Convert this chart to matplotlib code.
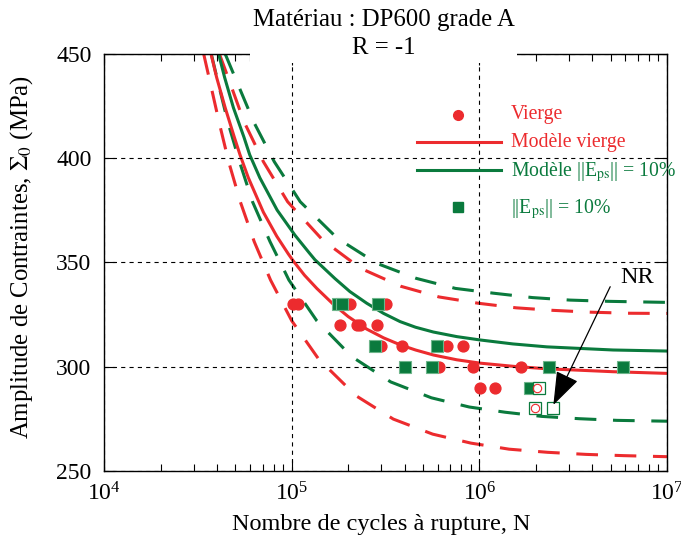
import matplotlib
matplotlib.use('Agg')
import matplotlib.pyplot as plt
from matplotlib.patches import Rectangle
from matplotlib.lines import Line2D
from matplotlib.ticker import LogLocator, FixedLocator, LogFormatterMathtext, NullLocator

plt.rcParams['font.family'] = 'serif'
plt.rcParams['font.serif'] = ['Liberation Serif', 'DejaVu Serif']
plt.rcParams['mathtext.fontset'] = 'stix'
plt.rcParams['lines.scale_dashes'] = False

RED = '#EC2B2E'
GREEN = '#0A7A3D'

# ---------------- data ----------------
# Vierge : filled red circles
vierge_N = [1.02e5, 1.08e5, 2.05e5, 3.18e5,
            1.81e5, 2.22e5, 2.31e5, 2.84e5,
            2.99e5, 3.86e5, 6.70e5, 8.15e5,
            6.12e5, 9.30e5, 1.66e6,
            1.01e6, 1.21e6]
vierge_S = [330, 330, 330, 330,
            320, 320, 320, 320,
            310, 310, 310, 310,
            300, 300, 300,
            290, 290]
# Vierge non rompues (open red circles)
vierge_nr_N = [2.04e6, 1.98e6]
vierge_nr_S = [290, 280]

# ||Eps|| = 10% : filled green squares
eps_N = [1.77e5, 1.85e5, 2.90e5,
         2.78e5, 5.93e5,
         4.02e5, 5.57e5, 2.35e6, 5.86e6,
         1.86e6]
eps_S = [330, 330, 330,
         310, 310,
         300, 300, 300, 300,
         290]
# ||Eps|| = 10% non rompues (open green squares)
eps_nr_N = [2.07e6, 1.98e6, 2.48e6]
eps_nr_S = [290, 280, 280]

# Modèle vierge (solid red)
mod_v_N = [3.70e4, 3.98e4, 4.42e4, 4.94e4, 5.30e4, 5.87e4, 7.06e4, 8.32e4,
           9.59e4, 1.02e5, 1.17e5, 1.36e5, 1.67e5, 2.00e5, 2.51e5, 3.09e5,
           3.78e5, 4.57e5, 5.69e5, 7.59e5, 1.01e6, 1.51e6, 2.29e6, 5.16e6, 1.0e7]
mod_v_S = [450.4, 438.5, 424.0, 410.0, 401.5, 390.5, 374.0, 362.5,
           354.0, 350.6, 343.8, 337.5, 329.8, 324.0, 318.0, 313.8,
           310.5, 308.0, 305.6, 303.3, 301.7, 300.2, 299.0, 297.6, 296.8]
# Modèle vierge bounds (dashed red)
mod_v_lo_N = [3.39e4, 3.69e4, 4.11e4, 4.62e4, 5.32e4, 6.31e4, 7.71e4, 1.00e5,
              1.39e5, 2.20e5, 3.48e5, 5.64e5, 9.02e5, 1.44e6, 2.31e6, 3.71e6,
              5.90e6, 1.0e7]
mod_v_lo_S = [450.0, 435.4, 416.7, 397.9, 379.0, 359.9, 341.5, 322.0,
              303.7, 286.1, 274.9, 267.7, 263.4, 260.5, 259.0, 258.0,
              257.4, 256.9]
mod_v_hi_N = [4.11e4, 4.69e4, 5.57e4, 7.06e4, 9.51e4, 1.46e5, 2.33e5, 3.82e5,
              6.10e5, 9.84e5, 1.57e6, 2.45e6, 3.94e6, 6.31e6, 1.0e7]
mod_v_hi_S = [450.0, 435.9, 417.3, 398.2, 379.0, 360.7, 347.1, 338.5,
              333.4, 330.4, 328.2, 327.0, 326.1, 325.6, 325.5]

# Modèle ||Eps|| = 10% (solid green)
mod_e_N = [4.06e4, 4.39e4, 4.89e4, 5.56e4, 5.97e4, 6.76e4, 8.36e4, 1.04e5,
           1.24e5, 1.33e5, 1.70e5, 2.04e5, 2.51e5, 3.09e5, 3.78e5, 4.57e5,
           5.69e5, 7.59e5, 1.01e6, 1.51e6, 2.29e6, 5.16e6, 1.0e7]
mod_e_S = [450.4, 438.5, 424.0, 410.0, 401.5, 390.5, 375.0, 363.0,
           354.5, 351.2, 342.2, 336.0, 330.4, 325.5, 321.6, 318.9,
           316.6, 314.4, 312.8, 310.9, 309.5, 308.0, 307.5]
mod_e_lo_N = [3.72e4, 4.06e4, 4.56e4, 5.28e4, 6.18e4, 7.66e4, 9.66e4, 1.36e5,
              2.09e5, 3.37e5, 5.55e5, 8.83e5, 1.37e6, 2.15e6, 3.40e6, 5.40e6,
              1.0e7]
mod_e_lo_S = [450.0, 435.7, 417.3, 397.9, 379.0, 359.9, 341.5, 322.0,
              304.8, 292.7, 285.1, 280.7, 278.2, 276.2, 275.1, 274.3, 273.9]
mod_e_hi_N = [4.41e4, 5.14e4, 6.28e4, 8.07e4, 1.11e5, 1.75e5, 2.84e5, 4.61e5,
              7.45e5, 1.19e6, 1.92e6, 3.04e6, 4.91e6, 1.0e7]
mod_e_hi_S = [450.0, 435.7, 417.1, 398.2, 379.0, 361.5, 349.5, 342.3,
              337.5, 335.2, 333.1, 331.9, 331.3, 330.8]

x_ticks = [1e4, 1e5, 1e6, 1e7]
y_ticks = [250, 300, 350, 400, 450]

# NR annotation
nr_text_pos = (6.89e6, 342.9)
nr_arrow_tail = (4.98e6, 338.3)
nr_arrow_tip = (2.48e6, 281.7)

# ---------------- figure ----------------
W, H = 681, 544
fig = plt.figure(figsize=(W / 100, H / 100), dpi=100)
ax_l, ax_r, ax_t, ax_b = 104.1, 667.0, 53.5, 471.1
ax = fig.add_axes([ax_l / W, 1 - ax_b / H, (ax_r - ax_l) / W, (ax_b - ax_t) / H])

ax.set_xscale('log')
ax.set_xlim(1e4, 1e7)
ax.set_ylim(250, 450)

DASH = (0, (15.6, 12.0))
lw = 2.2
ax.plot(mod_v_lo_N, mod_v_lo_S, color=RED, lw=lw, ls=DASH, zorder=2)
ax.plot(mod_v_hi_N, mod_v_hi_S, color=RED, lw=lw, ls=DASH, zorder=2)
ax.plot(mod_e_lo_N, mod_e_lo_S, color=GREEN, lw=lw, ls=DASH, zorder=2)
ax.plot(mod_e_hi_N, mod_e_hi_S, color=GREEN, lw=lw, ls=DASH, zorder=2)
ax.plot(mod_v_N, mod_v_S, color=RED, lw=lw, zorder=2.2)
ax.plot(mod_e_N, mod_e_S, color=GREEN, lw=lw, zorder=2.2)

ax.plot(vierge_N, vierge_S, ls='none', marker='o', ms=7.8, mfc=RED, mec=RED, zorder=3)
ax.plot(eps_N, eps_S, ls='none', marker='s', ms=9, mfc=GREEN, mec='#6DB58A',
        mew=0.8, zorder=4)
ax.plot(eps_nr_N, eps_nr_S, ls='none', marker='s', ms=9, mfc='white', mec=GREEN,
        mew=0.9, zorder=4)
ax.plot(vierge_nr_N, vierge_nr_S, ls='none', marker='o', ms=6, mfc='none', mec=RED,
        mew=0.8, zorder=4.5)

# axes styling
ax.xaxis.set_major_locator(FixedLocator(x_ticks))
ax.xaxis.set_minor_locator(LogLocator(base=10, subs=range(2, 10), numticks=20))
ax.xaxis.set_major_formatter(LogFormatterMathtext())
ax.yaxis.set_major_locator(FixedLocator(y_ticks))
ax.yaxis.set_minor_locator(NullLocator())
ax.tick_params(which='both', direction='in', top=True, right=True, width=0.8,
               colors='black')
ax.tick_params(which='major', length=8, labelsize=17)
ax.tick_params(which='minor', length=5)
ax.tick_params(axis='y', pad=9)
ax.tick_params(axis='x', pad=8)
for s in ax.spines.values():
    s.set_linewidth(1.0)
ax.grid(True, which='major', color='black', lw=0.8, ls=(0, (3, 3)))
ax.set_axisbelow(False)

ax.set_xlabel('Nombre de cycles à rupture, N', fontsize=17.5, va='center')
ax.xaxis.set_label_coords(0.493, -0.129)
ax.set_ylabel(r'Amplitude de Contraintes, $\Sigma_0$ (MPa)', fontsize=17.8,
              va='center')
ax.yaxis.set_label_coords(-0.146, 0.512)

# legend (manual, no frame)
def fx(px):
    return (px - ax_l) / (ax_r - ax_l)

def fy(py):
    return (ax_b - py) / (ax_b - ax_t)

ax.add_line(Line2D([fx(458)], [fy(115)], transform=ax.transAxes, ls='none',
                   marker='o', ms=7, mfc=RED, mec=RED, zorder=6))
ax.add_line(Line2D([fx(417), fx(501)], [fy(142), fy(142)], transform=ax.transAxes,
                   color=RED, lw=lw, zorder=6))
ax.add_line(Line2D([fx(417), fx(501)], [fy(170), fy(170)], transform=ax.transAxes,
                   color=GREEN, lw=lw, zorder=6))
ax.add_line(Line2D([fx(458)], [fy(207)], transform=ax.transAxes, ls='none',
                   marker='s', ms=7, mfc=GREEN, mec=GREEN, zorder=6))
leg_fs = 14.2
tx = fx(511)
ax.text(tx, fy(115), 'Vierge', color=RED, fontsize=leg_fs, va='center',
        transform=ax.transAxes, zorder=6)
ax.text(tx, fy(142), 'Modèle vierge', color=RED, fontsize=leg_fs, va='center',
        transform=ax.transAxes, zorder=6)
ax.text(tx, fy(176), r'Modèle ||E$_{\mathrm{ps}}$|| = 10%', color=GREEN,
        fontsize=leg_fs, va='baseline', transform=ax.transAxes, zorder=6)
ax.text(tx, fy(213), r'||E$_{\mathrm{ps}}$|| = 10%', color=GREEN,
        fontsize=leg_fs, va='baseline', transform=ax.transAxes, zorder=6)

# NR annotation
ax.annotate('', xy=nr_arrow_tip, xytext=nr_arrow_tail,
            arrowprops=dict(arrowstyle='-|>,head_length=2.1,head_width=0.75',
                            color='black', lw=0.9, mutation_scale=10,
                            shrinkA=0, shrinkB=0), zorder=7)
ax.text(*nr_text_pos, 'NR', fontsize=17.5, ha='center', va='center', zorder=7)

# title block (white box hides the top spine)
fig.add_artist(Rectangle((250 / W, 1 - 63 / H), (517 - 250) / W, 63 / H,
                         transform=fig.transFigure, facecolor='white',
                         edgecolor='none', zorder=5))
fig.text(383.5 / W, 1 - 20 / H, 'Matériau : DP600 grade A', fontsize=17.8,
         ha='center', va='center', zorder=6)
fig.text(383.5 / W, 1 - 48 / H, 'R = -1', fontsize=17.8, ha='center', va='center',
         zorder=6)

fig.savefig('out.png', dpi=100)
